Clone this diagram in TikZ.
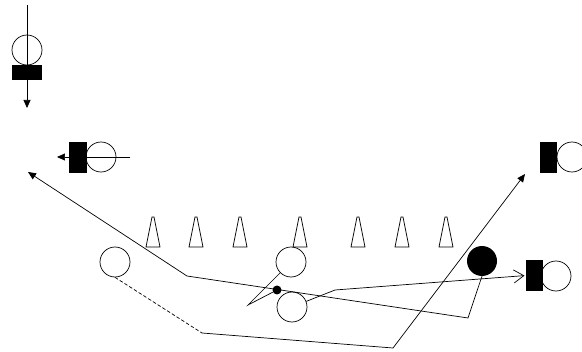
\documentclass[tikz,border=0pt]{standalone}
\usetikzlibrary{arrows.meta}
\begin{document}
\begin{tikzpicture}[
    x=0.05cm,
    y=-0.05cm,
    jogador/.style={
        draw,
        circle,
        line width=1pt,
        minimum size=1.5cm,
        inner sep=0pt
    },
    bola/.style={
        circle,
        fill=black,
        minimum size=1.5cm,
        inner sep=0pt
    },
    bloco/.style={
        fill=black,
        inner sep=0pt,
        minimum width=0.85cm,
        minimum height=1.55cm
    },
    ponto/.style={
        circle,
        fill=black,
        minimum size=0.45cm,
        inner sep=0pt
    },
    cone/.style={
        draw,
        line width=1pt
    },
    rota/.style={
        line width=1pt
    },
    seta/.style={
        rota,
        -{Triangle[length=0.4cm,width=0.35cm]}
    },
    setaaberta/.style={
        rota,
        -{Straight Barb[length=0.5cm,width=0.65cm]}
    }
]

\useasboundingbox (0,0) rectangle (582,352);

% jogadores
\node[jogador] (j1) at (27,50) {};
\node[bloco, minimum width=1.5cm, minimum height=0.75cm] (b1) at (27,72.5) {};

\node[jogador] (j2) at (101,157) {};
\node[bloco, minimum width=0.9cm] (b2) at (78,157.5) {};

\node[jogador] (j3) at (572,157) {};
\node[bloco] (b3) at (548.5,157.5) {};

\node[jogador] (j4) at (556,276) {};
\node[bloco] (b4) at (534.5,275.5) {};

\node[jogador] (esq) at (115,262) {};
\node[jogador] (meio1) at (291,262) {};
\node[jogador] (meio2) at (292,307) {};
\node[bola] (qb) at (482,261) {};
\node[ponto] (dot) at (277,290) {};

% cones
\foreach \x in {153,196,240,300,358,402,446}
    \draw[cone] (\x-7,247) -- (\x-1,217) -- (\x+1,217) -- (\x+7,247) -- cycle;

% pontos de rota
\coordinate (topo) at (27,5);
\coordinate (fim1) at (27,108);
\coordinate (ini2) at (130,157);
\coordinate (fim2) at (57,157);
\coordinate (fim3) at (28,172);
\coordinate (fim4) at (525,174);
\coordinate (q1) at (468,318);
\coordinate (q2) at (187,276);
\coordinate (v1) at (248,305);
\coordinate (m1) at (335,290);
\coordinate (d1) at (202,333);
\coordinate (d2) at (393,348);

% rotas
\draw[seta] (topo) -- (fim1);
\draw[seta] (ini2) -- (fim2);
\draw[seta] (qb.south) -- (q1) -- (q2) -- (fim3);
\draw[rota] (meio1) -- (v1) -- (dot);
\draw[setaaberta, shorten >=2pt] (meio2) -- (m1) -- (b4.west);
\draw[rota, dash pattern=on 5pt off 3pt] (esq.south) -- (d1);
\draw[seta] (d1) -- (d2) -- (fim4);

\end{tikzpicture}
\end{document}
